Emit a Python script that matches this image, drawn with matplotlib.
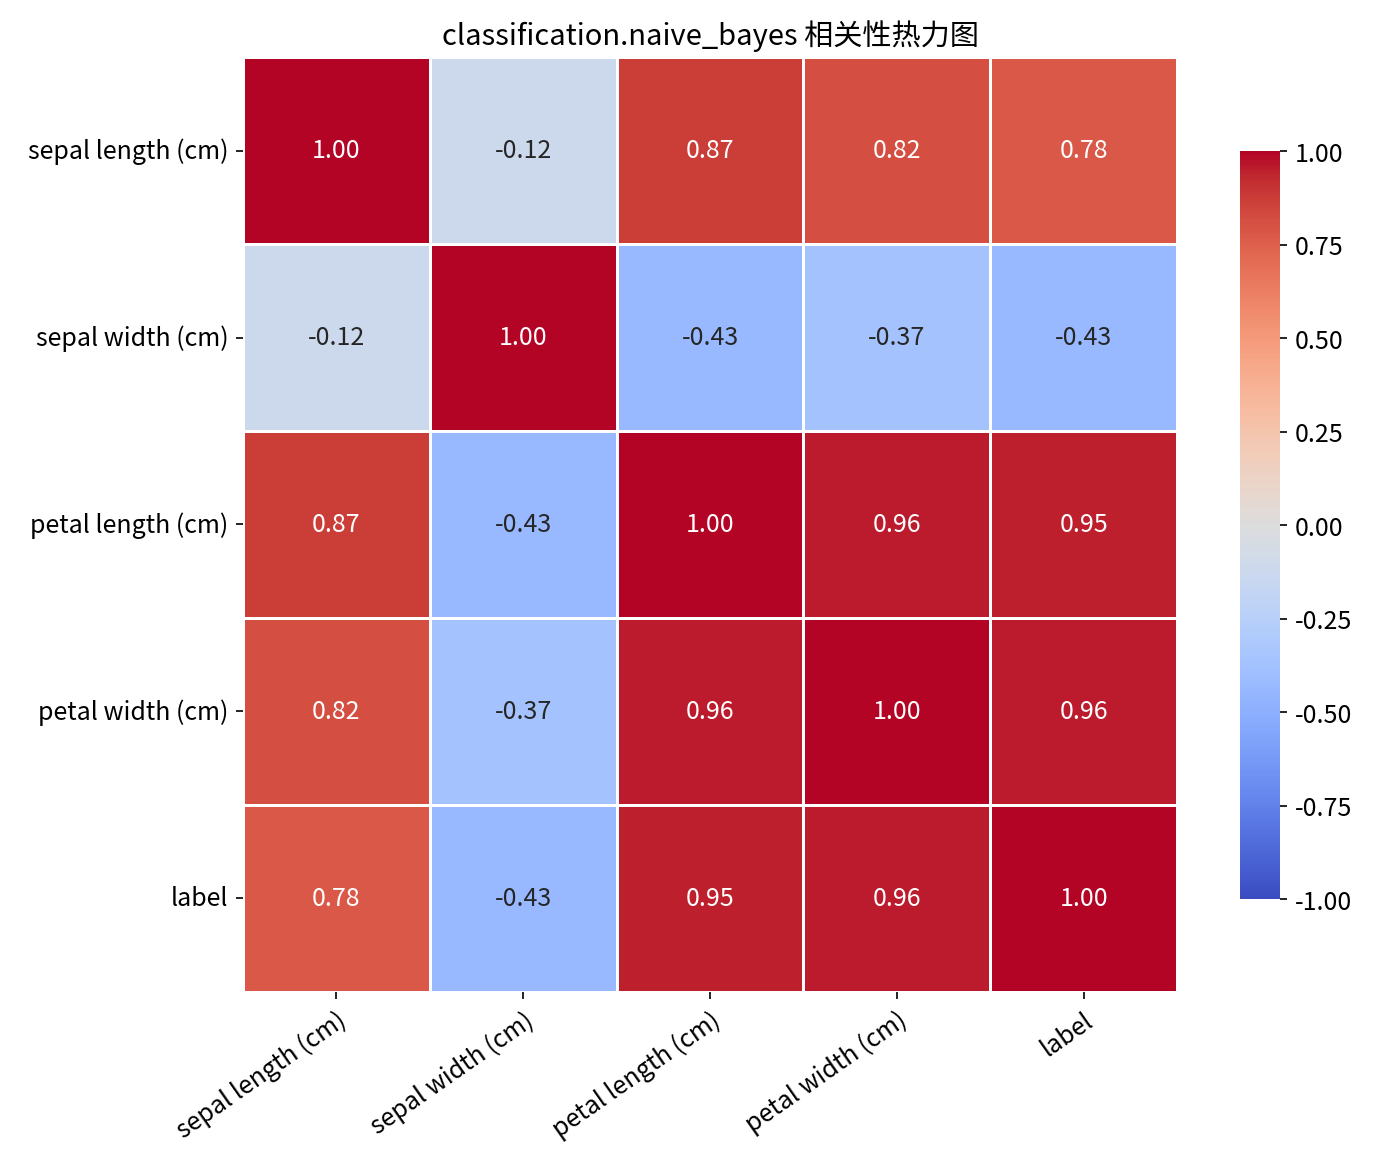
import matplotlib
matplotlib.use("Agg")
import matplotlib.pyplot as plt
import numpy as np
import seaborn as sns

plt.rcParams['font.family'] = ['Noto Sans CJK SC', 'DejaVu Sans']
plt.rcParams['axes.unicode_minus'] = False

# feature names
features = ['sepal length (cm)', 'sepal width (cm)', 'petal length (cm)', 'petal width (cm)', 'label']

# correlation rows
row_sl = [1.00, -0.12, 0.87, 0.82, 0.78]
row_sw = [-0.12, 1.00, -0.43, -0.37, -0.43]
row_pl = [0.87, -0.43, 1.00, 0.96, 0.95]
row_pw = [0.82, -0.37, 0.96, 1.00, 0.96]
row_lb = [0.78, -0.43, 0.95, 0.96, 1.00]

corr = np.array([row_sl, row_sw, row_pl, row_pw, row_lb])

fig = plt.figure(figsize=(9.16, 7.793), dpi=150)
ax = fig.add_axes([0.1769, 0.1506, 0.6798, 0.7998])
cax = fig.add_axes([0.9025, 0.2301, 0.0291, 0.6399])

sns.heatmap(corr, annot=True, fmt='.2f', cmap='coolwarm', vmin=-1, vmax=1,
            linewidths=0.7, linecolor='white', square=False,
            xticklabels=features, yticklabels=features,
            annot_kws={'fontsize': 12}, ax=ax, cbar_ax=cax)

ax.set_title('classification.naive_bayes 相关性热力图', fontsize=14)
ax.tick_params(labelsize=12)
plt.setp(ax.get_xticklabels(), rotation=35, ha='right', rotation_mode='anchor')
plt.setp(ax.get_yticklabels(), rotation=0)
cax.tick_params(labelsize=12)
cbar = ax.collections[0].colorbar
cbar.set_ticks([-1, -0.75, -0.5, -0.25, 0, 0.25, 0.5, 0.75, 1])
cbar.outline.set_visible(False)

fig.savefig('out.png', dpi=150)
